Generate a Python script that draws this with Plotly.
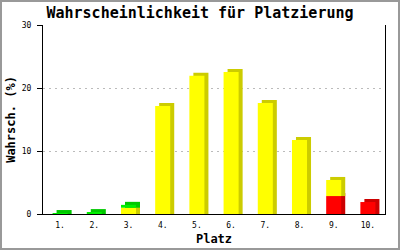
import plotly.graph_objects as go

# ---- data ----
places = ["1.", "2.", "3.", "4.", "5.", "6.", "7.", "8.", "9.", "10."]
red_vals = [0, 0, 0, 0, 0, 0, 0, 0, 2.85, 1.9]
yellow_vals = [0, 0, 1.0, 17.15, 21.95, 22.55, 17.6, 11.75, 2.55, 0]
green_vals = [0.15, 0.3, 0.45, 0, 0, 0, 0, 0, 0, 0]
y_ticks = [0, 10, 20, 30]

# ---- style ----
W, H = 400, 250
ML, MR, MT, MB = 43, 15, 25, 36
BAR_W = 0.44          # category units
DX = 0.117            # 3D depth to the right (category units)
DY = 0.48             # 3D depth upwards (value units)
FONT = "DejaVu Sans Mono"

series = [
    (red_vals, "#ff0000", "#cc0000"),
    (yellow_vals, "#ffff00", "#cccc00"),
    (green_vals, "#00f000", "#00c800"),
]

fig = go.Figure()
base = [0.0] * len(places)
for vals, front_col, side_col in series:
    shadow = [v + DY if v > 0 else None for v in vals]
    front = [v if v > 0 else None for v in vals]
    fig.add_trace(go.Bar(
        x=places, y=shadow, base=list(base), width=BAR_W,
        offset=-BAR_W / 2 + DX, marker=dict(color=side_col, line=dict(width=0)),
        hoverinfo="skip", showlegend=False))
    fig.add_trace(go.Bar(
        x=places, y=front, base=list(base), width=BAR_W,
        offset=-BAR_W / 2, marker=dict(color=front_col, line=dict(width=0)),
        hoverinfo="skip", showlegend=False))
    base = [b + v for b, v in zip(base, vals)]

pw = W - ML - MR
ph = H - MT - MB
fig.update_layout(
    width=W, height=H, autosize=False,
    margin=dict(l=ML, r=MR, t=MT, b=MB, pad=0, autoexpand=False),
    barmode="overlay",
    paper_bgcolor="white", plot_bgcolor="white",
    font=dict(family=FONT, color="black"),
    title=dict(text="<b>Wahrscheinlichkeit für Platzierung</b>",
               x=0.5, xanchor="center", y=1 - 13 / H, yanchor="middle",
               automargin=False,
               font=dict(family=FONT, size=15, color="black")),
    xaxis=dict(
        type="category", range=[-0.5, len(places) - 0.5], automargin=False,
        showline=True, linecolor="black", linewidth=1,
        ticks="", showgrid=False, zeroline=False, ticklabelstandoff=3,
        tickfont=dict(family=FONT, size=8, color="black"),
        title=dict(text="<b>Platz</b>", standoff=6,
                   font=dict(family=FONT, size=12, color="black")),
    ),
    yaxis=dict(
        range=[0, 30], tickvals=y_ticks, automargin=False,
        showline=True, linecolor="black", linewidth=1, mirror=True,
        ticks="outside", ticklen=5, tickcolor="black", tickwidth=1,
        showgrid=True, gridcolor="#bbbbbb", gridwidth=1, griddash="2px,4px",
        zeroline=False, ticklabelstandoff=4,
        tickfont=dict(family=FONT, size=8, color="black"),
        title=dict(text="<b>Wahrsch. (%)</b>", standoff=3,
                   font=dict(family=FONT, size=12, color="black")),
    ),
    shapes=[dict(
        type="rect", xref="paper", yref="paper",
        x0=-(ML - 1) / pw, x1=1 + (MR - 1) / pw,
        y0=-(MB - 1) / ph, y1=1 + (MT - 1) / ph,
        line=dict(color="#999999", width=2), fillcolor="rgba(0,0,0,0)",
        layer="above")],
)

fig.write_html("out.html")
